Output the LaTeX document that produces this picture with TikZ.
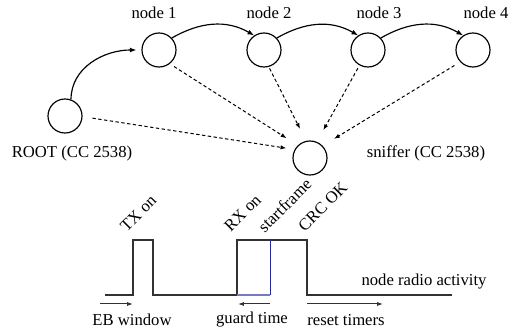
\documentclass[tikz,border=0pt]{standalone}
\usepackage{fontspec}
\setmainfont{Liberation Serif}
\usetikzlibrary{arrows.meta}
\definecolor{trace}{RGB}{50,50,50}
\definecolor{frameblue}{RGB}{40,40,160}
\definecolor{guardblue}{RGB}{120,120,200}

\begin{document}
\begin{tikzpicture}[x=0.6pt,y=-0.6pt,
    mote/.style={circle,draw,line width=0.7pt,minimum size=20.4pt,inner sep=0pt},
    hop/.style={-{Latex[length=4pt,width=3pt]},line width=0.7pt},
    sniff/.style={-{Latex[length=3.5pt,width=2.6pt]},dash pattern=on 2pt off 1.5pt,line width=0.6pt},
    span/.style={-{Latex[length=3.5pt,width=2.4pt]},line width=0.6pt,trace},
    tick/.style={rotate=45,anchor=south west,inner sep=0.5pt}]
    \useasboundingbox (0,0) rectangle (516,335);

    % motes of the network
    \node[mote] (root) at (65,116) {};
    \node[mote] (n1) at (159,50) {};
    \node[mote] (n2) at (264,50) {};
    \node[mote] (n3) at (368,50) {};
    \node[mote] (n4) at (473,50) {};
    \node[mote] (sn) at (310,158) {};
    \node (lroot) at (72,153) {ROOT (CC 2538)};
    \node (l1) at (154,13) {node 1};
    \node (l2) at (269,13) {node 2};
    \node (l3) at (379,13) {node 3};
    \node (l4) at (486,13) {node 4};
    \node (lsn) at (426,153) {sniffer (CC 2538)};

    % hops from the root along the chain
    \draw[hop] (root.70) to[out=90,in=180] ([xshift=-3pt]n1.west);
    \draw[hop] (n1.43) to[out=30,in=150] (n2.124);
    \draw[hop] (n2.43) to[out=30,in=150] (n3.124);
    \draw[hop] (n3.43) to[out=30,in=150] (n4.124);

    % what the sniffer overhears
    \draw[sniff,shorten <=6pt,shorten >=5pt] (root.358) -- (sn.151);
    \draw[sniff,shorten <=3pt,shorten >=8pt] (n1.308) -- (sn.134);
    \draw[sniff,shorten <=1pt,shorten >=8pt] (n2.286) -- (sn.103);
    \draw[sniff,shorten <=2pt,shorten >=8pt] (n3.241) -- (sn.67);
    \draw[sniff,shorten <=4pt,shorten >=8pt] (n4.223) -- (sn.44);

    % node radio activity
    \draw[trace,line width=0.7pt] (105,295) -- (133,295) -- (133,240) -- (153,240) -- (153,295)
        -- (237,295) -- (237,240) -- (307,240) -- (307,295) -- (452,295);
    \draw[frameblue,line width=0.6pt] (270,240) -- (270,295);
    \draw[guardblue,line width=0.7pt] (237,295) -- (270,295);
    \node (lact) at (424,282) {node radio activity};
    \node[tick] (ltx) at (127,234) {TX on};
    \node[tick] (lrx) at (231,234) {RX on};
    \node[tick] (lsf) at (265,235) {startframe};
    \node[tick] (lcrc) at (305,234) {CRC OK};

    % time spans
    \coordinate (eb1) at (100,304);
    \coordinate (eb2) at (133,304);
    \coordinate (gt1) at (238,304);
    \coordinate (gt2) at (270,304);
    \coordinate (rt1) at (307,304);
    \coordinate (rt2) at (383,304);
    \draw[span] (eb1) -- (eb2);
    \draw[span,{Latex[length=3.5pt,width=2.4pt]}-] (gt1) -- (gt2);
    \draw[span] (rt1) -- (rt2);
    \node (leb) at (132,320) {EB window};
    \node (lgt) at (252,320) {guard time};
    \node (lrt) at (346,320) {reset timers};
\end{tikzpicture}
\end{document}
